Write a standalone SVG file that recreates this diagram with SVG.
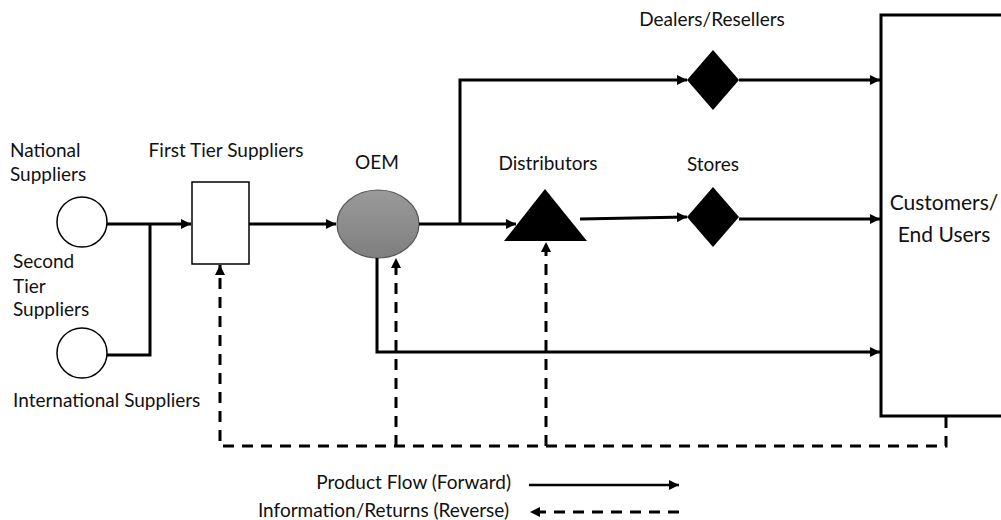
<svg xmlns="http://www.w3.org/2000/svg" width="1001" height="520" viewBox="0 0 1001 520">
<defs>
  <linearGradient id="oemGrad" x1="0" y1="0" x2="0" y2="1">
    <stop offset="0" stop-color="#9a9a9a"/>
    <stop offset="1" stop-color="#7f7f7f"/>
  </linearGradient>
  <marker id="arrow" viewBox="0 0 10 10" refX="10" refY="5" markerWidth="10" markerHeight="10" markerUnits="userSpaceOnUse" orient="auto">
    <path d="M0,0 L10,5 L0,10 z" fill="#000"/>
  </marker>
</defs>
<style>
  text { font-family: Lato, "Open Sans", sans-serif; font-size: 19px; fill: #111; }
  .big { font-size: 21px; }
  .flow { fill: none; stroke: #000; stroke-width: 3; }
  .ret { fill: none; stroke: #000; stroke-width: 3; stroke-dasharray: 11 8; }
  .thin { fill: none; stroke: #000; stroke-width: 2.5; }
</style>

<g id="national">
  <circle cx="82" cy="222" r="25" fill="#fff" stroke="#000" stroke-width="1.5"/>
  <text x="10" y="157">National</text>
  <text x="10" y="181">Suppliers</text>
</g>
<g id="international">
  <circle cx="82" cy="353" r="25" fill="#fff" stroke="#000" stroke-width="1.5"/>
  <text x="13" y="268">Second</text>
  <text x="13" y="293">Tier</text>
  <text x="13" y="316">Suppliers</text>
  <text x="13" y="407">International Suppliers</text>
</g>
<g id="first-tier">
  <rect x="192" y="182" width="57" height="82" fill="#fff" stroke="#000" stroke-width="1.5"/>
  <text x="226" y="157" text-anchor="middle">First Tier Suppliers</text>
</g>
<g id="oem">
  <ellipse cx="378" cy="224" rx="41" ry="34" fill="url(#oemGrad)" stroke="#555" stroke-width="1.2"/>
  <text x="377" y="169" text-anchor="middle">OEM</text>
</g>
<g id="distributors">
  <polygon points="545,189 587,241 504,241" fill="#000"/>
  <text x="548" y="170" text-anchor="middle">Distributors</text>
</g>
<g id="dealers">
  <polygon points="713,50 739,80 713,110 687,80" fill="#000"/>
  <text x="712" y="26" text-anchor="middle">Dealers/Resellers</text>
</g>
<g id="stores">
  <polygon points="713,187 739,217 713,247 687,217" fill="#000"/>
  <text x="713" y="171" text-anchor="middle">Stores</text>
</g>
<g id="customers">
  <rect x="881" y="15" width="140" height="401" fill="#fff" stroke="#000" stroke-width="3"/>
  <text class="big" x="944" y="210" text-anchor="middle">Customers/</text>
  <text class="big" x="944" y="242" text-anchor="middle">End Users</text>
</g>

<g id="connectors">
  <!-- forward product flow -->
  <path class="flow" d="M107,224 H191" marker-end="url(#arrow)"/>
  <path class="flow" d="M107,355 H150 V224"/>
  <path class="flow" d="M249,224 H336" marker-end="url(#arrow)"/>
  <path class="flow" d="M419,224 H516" marker-end="url(#arrow)"/>
  <path class="flow" d="M460,224 V80 H687" marker-end="url(#arrow)"/>
  <path class="flow" d="M739,80 H880" marker-end="url(#arrow)"/>
  <path class="flow" d="M580,219 L687,217" marker-end="url(#arrow)"/>
  <path class="flow" d="M739,219 H880" marker-end="url(#arrow)"/>
  <path class="flow" d="M377,258 V352 H880" marker-end="url(#arrow)"/>
  <!-- reverse information / returns -->
  <path class="ret" d="M946,417 V446 H220 V265" marker-end="url(#arrow)"/>
  <path class="ret" d="M396,446 V258" marker-end="url(#arrow)"/>
  <path class="ret" d="M546,446 V242" marker-end="url(#arrow)"/>
  <!-- legend -->
  <path class="thin" d="M529,485 H679" marker-end="url(#arrow)"/>
  <path class="ret" d="M679,512 H530" marker-end="url(#arrow)" stroke-width="2.5"/>
</g>
<text x="511" y="489" text-anchor="end">Product Flow (Forward)</text>
<text x="509" y="517" text-anchor="end">Information/Returns (Reverse)</text>
</svg>
